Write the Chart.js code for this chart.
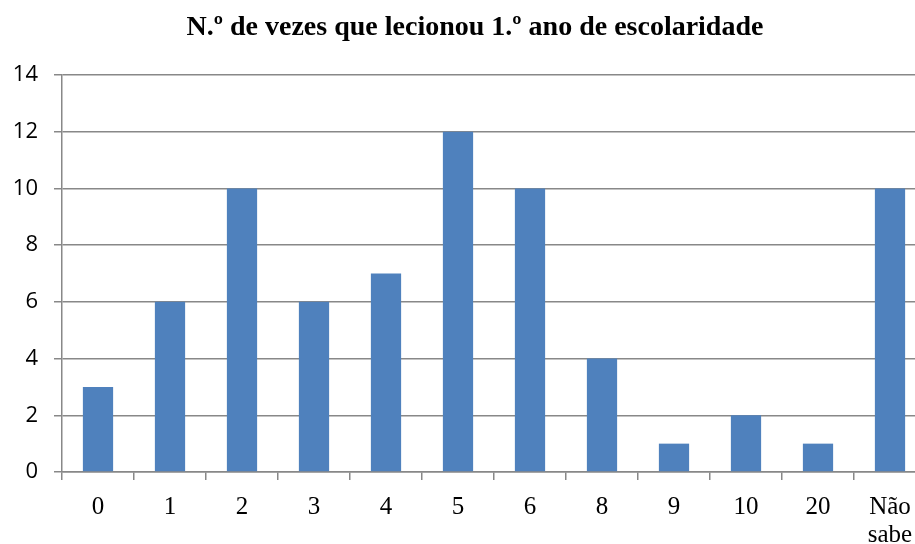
<!DOCTYPE html>
<html>
<head>
<meta charset="utf-8">
<script src="https://cdn.jsdelivr.net/npm/chart.js@4"></script>
<style>
  html, body { margin: 0; padding: 0; background: #fff; overflow: hidden; }
  #wrap { position: relative; width: 950px; height: 544px; }
  #title {
    position: absolute; left: 0; top: 12px; width: 950px; text-align: center; line-height: 28px;
    font-family: "Liberation Serif", "Times New Roman", serif; font-weight: bold; font-size: 28px; color: #000;
  }
</style>
</head>
<body>
<div id="wrap">
  <div id="title">N.º de vezes que lecionou 1.º ano de escolaridade</div>
  <canvas id="chart" width="950" height="544"></canvas>
</div>
<script>
const categorias = ["0", "1", "2", "3", "4", "5", "6", "8", "9", "10", "20", ["Não", "sabe"]];
const valores = [3, 6, 10, 6, 7, 12, 10, 4, 1, 2, 1, 10];
const yTicks = [0, 2, 4, 6, 8, 10, 12, 14];

const gridColor = "#888888";

new Chart(document.getElementById("chart"), {
  type: "bar",
  data: {
    labels: categorias,
    datasets: [{
      label: "N.º de vezes",
      data: valores,
      backgroundColor: "#4F81BD",
      barPercentage: 0.42,
      categoryPercentage: 1,
    }],
  },
  options: {
    responsive: false,
    animation: false,
    layout: { padding: { top: 75, right: 24, left: 0, bottom: 0 } },
    plugins: { legend: { display: false }, tooltip: { enabled: false } },
    scales: {
      x: {
        offset: true,
        grid: { offset: true, drawOnChartArea: false, drawTicks: true, tickLength: 8, color: gridColor, lineWidth: 1.5 },
        border: { color: gridColor, width: 1.5 },
        ticks: {
          color: "#000",
          padding: 13,
          maxRotation: 0,
          autoSkip: false,
          font: { family: "'Liberation Serif', 'Times New Roman', serif", size: 25, lineHeight: 1.14 },
        },
        afterFit: (scale) => { scale.height = 72; },
      },
      y: {
        min: 0,
        max: 14,
        afterBuildTicks: (scale) => { scale.ticks = yTicks.map((v) => ({ value: v })); },
        grid: { color: gridColor, lineWidth: 1.5, tickLength: 8 },
        border: { color: gridColor, width: 1.5 },
        ticks: {
          color: "#000",
          padding: 16,
          font: { family: "'Open Sans', sans-serif", size: 22 },
        },
        afterFit: (scale) => { scale.width = 62; },
      },
    },
  },
});
</script>
</body>
</html>
